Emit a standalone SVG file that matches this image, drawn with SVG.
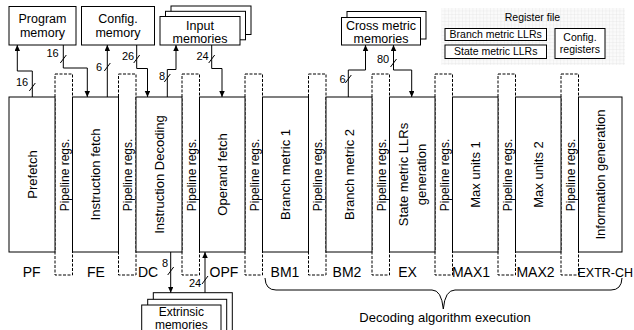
<svg xmlns="http://www.w3.org/2000/svg" width="634" height="330" viewBox="0 0 634 330">
<defs>
<style>
text{font-family:"Liberation Sans",Arial,sans-serif;fill:#000}
.box{fill:#fff;stroke:#000;stroke-width:1}
.pipe{fill:#fff;stroke:#000;stroke-width:1;stroke-dasharray:3 1.5}
.stg{font-size:13px}
.prl{font-size:12px}
.mem{font-size:12.5px}
.ext{font-size:12px}
.reg{font-size:10.5px}
.lbl{font-size:14px}
.num{font-size:11px}
.ln{fill:none;stroke:#000;stroke-width:1}
.c{text-anchor:middle}
</style>
<marker id="ah" markerUnits="userSpaceOnUse" markerWidth="7" markerHeight="6" refX="6" refY="2.75" orient="auto-start-reverse">
<path d="M0,0 L6,2.75 L0,5.5 z" fill="#000"/>
</marker>
<pattern id="grid" width="3.5" height="3.5" patternUnits="userSpaceOnUse">
<rect width="3.5" height="3.5" fill="#fafafa"/>
<path d="M0,0 H3.5 M0,0 V3.5" stroke="#dedede" stroke-width="0.6"/>
</pattern>
</defs>
<rect width="634" height="330" fill="#fff"/>

<!-- pipeline registers (drawn first, stage boxes over them) -->
<g id="pipe1"><rect class="pipe" x="55" y="74" width="17.5" height="201"/><text class="prl c" transform="translate(64.5,175) rotate(-90)" dominant-baseline="central">Pipeline regs.</text></g>
<g id="pipe2"><rect class="pipe" x="118.5" y="74" width="17.5" height="201"/><text class="prl c" transform="translate(128,175) rotate(-90)" dominant-baseline="central">Pipeline regs.</text></g>
<g id="pipe3"><rect class="pipe" x="182" y="74" width="17.5" height="201"/><text class="prl c" transform="translate(191.5,175) rotate(-90)" dominant-baseline="central">Pipeline regs.</text></g>
<g id="pipe4"><rect class="pipe" x="245" y="74" width="17.5" height="201"/><text class="prl c" transform="translate(254.5,175) rotate(-90)" dominant-baseline="central">Pipeline regs.</text></g>
<g id="pipe5"><rect class="pipe" x="308.5" y="74" width="17.5" height="201"/><text class="prl c" transform="translate(318,175) rotate(-90)" dominant-baseline="central">Pipeline regs.</text></g>
<g id="pipe6"><rect class="pipe" x="372" y="74" width="17.5" height="201"/><text class="prl c" transform="translate(381.5,175) rotate(-90)" dominant-baseline="central">Pipeline regs.</text></g>
<g id="pipe7"><rect class="pipe" x="435" y="74" width="17.5" height="201"/><text class="prl c" transform="translate(444.5,175) rotate(-90)" dominant-baseline="central">Pipeline regs.</text></g>
<g id="pipe8"><rect class="pipe" x="498" y="74" width="17.5" height="201"/><text class="prl c" transform="translate(507.5,175) rotate(-90)" dominant-baseline="central">Pipeline regs.</text></g>
<g id="pipe9"><rect class="pipe" x="561" y="74" width="17.5" height="201"/><text class="prl c" transform="translate(570.5,175) rotate(-90)" dominant-baseline="central">Pipeline regs.</text></g>

<!-- stages -->
<g id="stage-pf"><rect class="box" x="9" y="97" width="46" height="155"/><text class="stg c" transform="translate(32,174.5) rotate(-90)" dominant-baseline="central">Prefetch</text><text class="lbl c" x="31.7" y="276.5">PF</text></g>
<g id="stage-fe"><rect class="box" x="72.5" y="97" width="46" height="155"/><text class="stg c" transform="translate(95.5,174.5) rotate(-90)" dominant-baseline="central">Instruction fetch</text><text class="lbl c" x="96" y="276.5">FE</text></g>
<g id="stage-dc"><rect class="box" x="136" y="97" width="46" height="155"/><text class="stg c" transform="translate(159,174.5) rotate(-90)" dominant-baseline="central">Instruction Decoding</text><text class="lbl c" x="148" y="276.5">DC</text></g>
<g id="stage-opf"><rect class="box" x="199.5" y="97" width="45.5" height="155"/><text class="stg c" transform="translate(222,174.5) rotate(-90)" dominant-baseline="central">Operand fetch</text><text class="lbl c" x="224" y="276.5">OPF</text></g>
<g id="stage-bm1"><rect class="box" x="262.5" y="97" width="46" height="155"/><text class="stg c" transform="translate(285.5,174.5) rotate(-90)" dominant-baseline="central">Branch metric 1</text><text class="lbl c" x="285" y="276.5">BM1</text></g>
<g id="stage-bm2"><rect class="box" x="326" y="97" width="46" height="155"/><text class="stg c" transform="translate(349,174.5) rotate(-90)" dominant-baseline="central">Branch metric 2</text><text class="lbl c" x="347" y="276.5">BM2</text></g>
<g id="stage-ex"><rect class="box" x="389.5" y="97" width="45.5" height="155"/><text class="stg c" transform="translate(403,174.5) rotate(-90)" dominant-baseline="central">State metric LLRs</text><text class="stg c" transform="translate(421,174.5) rotate(-90)" dominant-baseline="central">generation</text><text class="lbl c" x="407.5" y="276.5">EX</text></g>
<g id="stage-max1"><rect class="box" x="452.5" y="97" width="45.5" height="155"/><text class="stg c" transform="translate(475.5,174.5) rotate(-90)" dominant-baseline="central">Max units 1</text><text class="lbl c" x="471" y="276.5">MAX1</text></g>
<g id="stage-max2"><rect class="box" x="515.5" y="97" width="45.5" height="155"/><text class="stg c" transform="translate(538,174.5) rotate(-90)" dominant-baseline="central">Max units 2</text><text class="lbl c" x="535.5" y="276.5">MAX2</text></g>
<g id="stage-extr"><rect class="box" x="578.5" y="97" width="43.5" height="155"/><text class="stg c" transform="translate(600.5,174.5) rotate(-90)" dominant-baseline="central">Information generation</text><text x="577.5" y="276.5" font-size="12.5">EXTR-CH</text></g>

<!-- memories -->
<g id="program-memory"><rect class="box" x="9" y="6.5" width="67" height="38.5"/><text class="mem c" x="42.5" y="23">Program</text><text class="mem c" x="42.5" y="37">memory</text></g>
<g id="config-memory"><rect class="box" x="81.5" y="6.5" width="73" height="38.5"/><text class="mem c" x="118" y="23">Config.</text><text class="mem c" x="118" y="37">memory</text></g>
<g id="input-memories"><rect class="box" x="171" y="6" width="80" height="28.5"/><rect class="box" x="165.5" y="11.3" width="80" height="28.5"/><rect class="box" x="160" y="16.5" width="80" height="28.5"/><text class="mem c" x="200" y="29.5">Input</text><text class="mem c" x="200" y="42.5">memories</text></g>
<g id="cross-metric-memories"><rect class="box" x="347" y="11.5" width="79" height="27.5"/><rect class="box" x="341.5" y="17.5" width="79" height="27.5"/><text class="mem c" x="381" y="29.5">Cross metric</text><text class="mem c" x="381" y="42.5">memories</text></g>
<g id="register-file"><rect x="441.5" y="8" width="183.5" height="57" fill="url(#grid)"/><text class="reg c" x="532.5" y="20.5">Register file</text>
<rect class="box" x="445" y="28.5" width="101.5" height="12"/><text class="reg c" x="495.7" y="38">Branch metric LLRs</text>
<rect class="box" x="445" y="45" width="101.5" height="13.5"/><text class="reg c" x="495.7" y="55">State metric LLRs</text>
<rect class="box" x="555" y="28.5" width="50" height="30"/><text class="reg c" x="580" y="41">Config.</text><text class="reg c" x="580" y="53">registers</text></g>
<g id="extrinsic-memories"><rect class="box" x="153.3" y="292.7" width="79" height="40"/><rect class="box" x="147.7" y="299.3" width="79" height="40"/><rect class="box" x="141.7" y="305" width="79.3" height="40"/><text class="ext c" x="181.3" y="315.5">Extrinsic</text><text class="ext c" x="181.3" y="328.5">memories</text></g>

<!-- connectors -->
<g id="connectors">
<path class="ln" d="M32.3,97 V71 H17.3 V45" marker-end="url(#ah)"/>
<path class="ln" d="M63.3,45 V68 H87.3 V97" marker-end="url(#ah)"/>
<path class="ln" d="M107.3,97 V45" marker-end="url(#ah)"/>
<path class="ln" d="M136.7,45 V68.5 H147.5 V97" marker-end="url(#ah)"/>
<path class="ln" d="M167.3,97 V69.5 H176 V45" marker-end="url(#ah)"/>
<path class="ln" d="M211.7,45 V68.5 H222 V97" marker-end="url(#ah)"/>
<path class="ln" d="M348.3,97 V70 H365.5 V45" marker-end="url(#ah)"/>
<path class="ln" d="M393.5,45 V70 H411.7 V97" marker-start="url(#ah)" marker-end="url(#ah)"/>
<path class="ln" d="M170.7,252 V292.7" marker-end="url(#ah)"/>
<path class="ln" d="M205,292.7 V252" marker-end="url(#ah)"/>
<!-- bus width slashes -->
<path class="ln" d="M29.3,91 L35.3,83 M60.3,63 L66.3,55 M104.3,71 L110.3,63 M133.7,63 L139.7,55 M164.3,82 L170.3,74 M208.7,63 L214.7,55 M345.3,83 L351.3,75 M390.5,67 L396.5,59 M167.7,275 L173.7,267 M202,284 L208,276"/>
<text class="num c" x="22" y="86">16</text>
<text class="num c" x="52.5" y="57">16</text>
<text class="num c" x="99" y="71">6</text>
<text class="num c" x="128" y="60">26</text>
<text class="num c" x="162" y="79.5">8</text>
<text class="num c" x="202.5" y="60">24</text>
<text class="num c" x="342.5" y="82.5">6</text>
<text class="num c" x="383" y="63">80</text>
<text class="num c" x="165" y="267">8</text>
<text class="num c" x="195" y="286.5">24</text>
</g>

<!-- brace -->
<g id="decoding-brace">
<path class="ln" d="M265,278 Q265.5,290 276,290 H432 Q441.5,290 443.3,309 Q445,290 455,290 H611 Q621.5,290 622,278"/>
<text class="stg c" x="445" y="322">Decoding algorithm execution</text>
</g>
</svg>
